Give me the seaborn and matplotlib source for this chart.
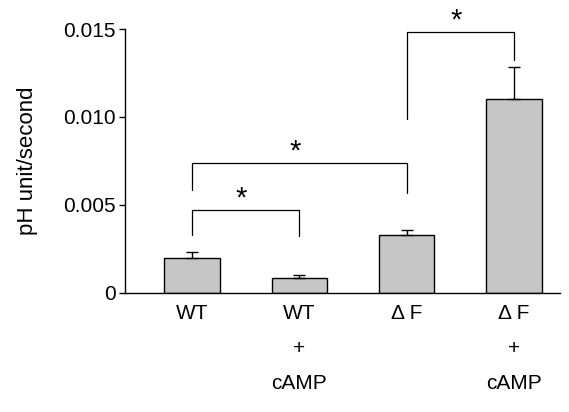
import numpy as np
import pandas as pd
import matplotlib
matplotlib.use('Agg')
import matplotlib.pyplot as plt
import seaborn as sns

groups = ['WT', 'WT\n+\ncAMP', '\u0394 F', '\u0394 F\n+\ncAMP']
rates = [0.0020, 0.00084, 0.00331, 0.01102]
errors = [0.00031, 0.00020, 0.00025, 0.00182]

# significance brackets: (left bar, right bar, bar height, left leg end, right leg end)
brackets = [
    (0, 1, 0.0047, 0.0033, 0.00324),
    (0, 2, 0.0074, 0.00585, 0.0057),
    (2, 3, 0.01481, 0.00989, 0.01324),
]

sns.set_style('ticks')
plt.rcParams['font.family'] = ['Liberation Sans', 'DejaVu Sans']
plt.rcParams['text.color'] = 'black'
plt.rcParams['xtick.color'] = 'black'
plt.rcParams['ytick.color'] = 'black'
plt.rcParams['axes.labelcolor'] = 'black'
plt.rcParams['axes.edgecolor'] = 'black'

data = pd.DataFrame({'group': groups, 'rate': rates})

fig = plt.figure(figsize=(5.69, 4.12), dpi=100)
ax = fig.add_axes([0.22, 0.289, 0.764, 0.6406])

sns.barplot(data=data, x='group', y='rate', color='#c6c6c6', edgecolor='black',
            linewidth=1.0, width=0.52, saturation=1, ax=ax)
ax.errorbar(np.arange(len(groups)), rates, yerr=[np.zeros(len(errors)), errors],
            fmt='none', ecolor='black', elinewidth=1.0, capsize=4, capthick=1.0)

for i, j, h, l1, l2 in brackets:
    ax.plot([i, i, j, j], [l1, h, h, l2], color='black', lw=0.9, clip_on=False)
    ax.text((i + j) / 2 - 0.04, h - 0.00015, '*', ha='center', va='bottom',
            fontsize=21, clip_on=False)

ax.set_xlim(-0.625, 3.43)
ax.set_ylim(0, 0.015)
ax.set_yticks([0, 0.005, 0.010, 0.015])
ax.set_yticklabels(['0', '0.005', '0.010', '0.015'], fontsize=15)
ax.tick_params(axis='y', length=4, width=1.0, pad=3)
ax.tick_params(axis='x', length=0, labelsize=15, pad=8)
for lab in ax.get_xticklabels():
    lab.set_linespacing(2.05)
    lab.set_verticalalignment('top')
ax.set_xlabel('')
ax.set_ylabel('pH unit/second', fontsize=16, labelpad=18)
sns.despine(ax=ax)
ax.spines['left'].set_linewidth(1.0)
ax.spines['bottom'].set_linewidth(1.0)

fig.savefig('out.png', dpi=100)
